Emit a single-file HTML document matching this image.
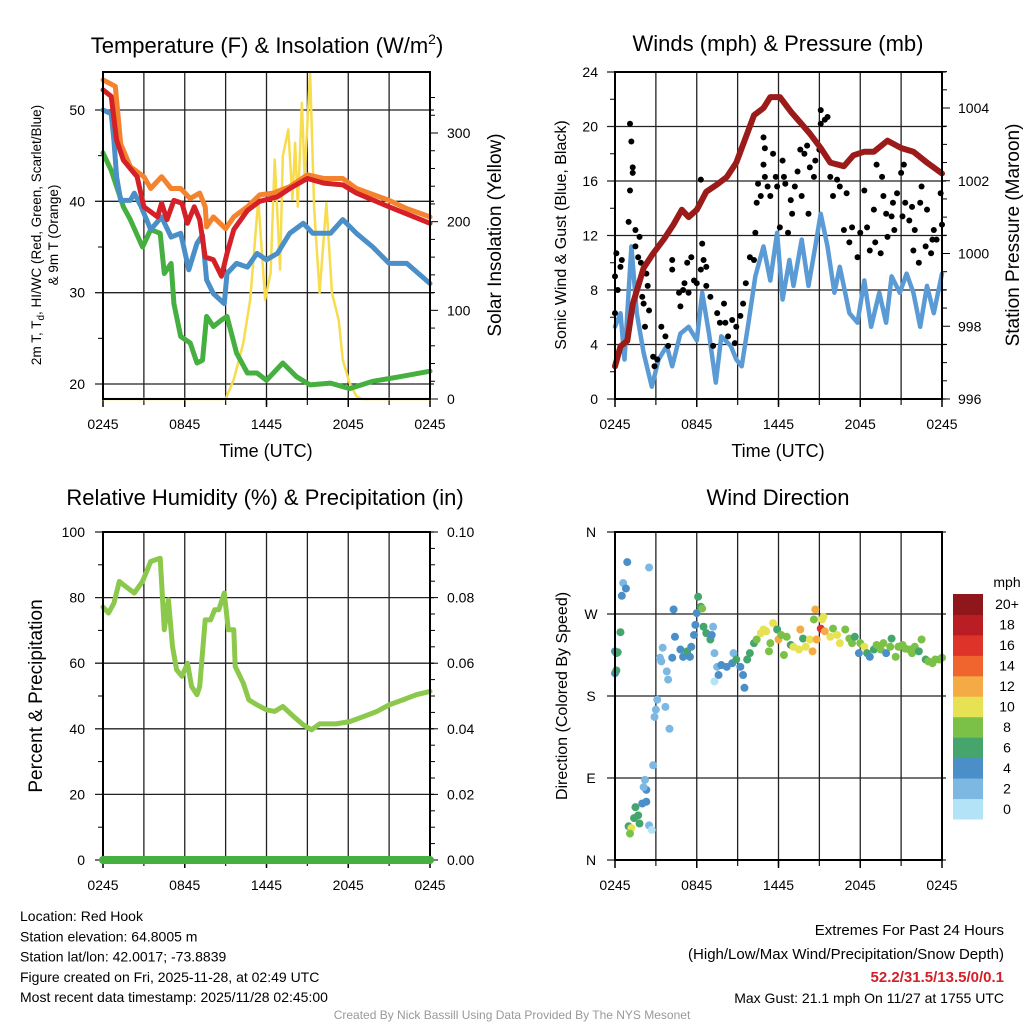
<!DOCTYPE html>
<html><head><meta charset="utf-8"><style>
body{margin:0;background:#fff;}
svg{display:block;font-family:"Liberation Sans",Arial,sans-serif;}
</style></head><body>
<svg id="c" width="1024" height="1024" viewBox="0 0 1024 1024">
</svg>
<script>
// ---------- data ----------
const orangeH=[0,0.9,1.3,2,3,3.5,4.3,5,5.7,6.4,7.1,7.5,7.6,8.1,9,9.6,10.6,11.5,12.5,13.7,15,16.2,17.6,18.6,21,22.3,24];
const orangeV=[53.3,52.6,46.3,43.8,42.7,41.4,42.7,41.4,41.4,40.3,40.9,39.4,37.2,38.3,37,38.3,39.4,40.7,40.9,41.6,42.9,42.5,42.5,41.4,40.1,39.2,38.3];
const redH=[0,0.6,1,1.5,2.5,3,4,4.3,4.7,5.2,5.8,6.2,6.7,7.1,7.5,8.1,8.7,9.1,9.6,10.6,11.5,12.8,13.7,15,16.2,17.6,18.6,21,24];
const redV=[52.2,51.5,46.7,44.5,42.7,39.4,38.3,39.8,38,40.1,39.8,37.6,39.4,38,33.9,33.6,31.8,34.3,36.9,39,40,40.5,41.4,42.5,42,41.8,40.9,39.4,37.6];
const blueH=[0,0.6,0.8,1,1.3,2,2.3,2.8,3.5,4.3,5,5.7,6.3,6.9,7.3,7.6,8.1,8.9,9.1,9.8,10.6,11.3,12,12.8,13.7,14.7,15.4,16.7,17.6,18.6,19.8,21,22.3,24];
const blueV=[50,49.6,46.7,42.7,40.1,40.1,40.9,39.4,36.9,38.3,36.1,36.5,32.5,35.4,36.3,31.4,29.9,28.8,32.1,33.2,32.8,34.3,33.6,34.3,36.5,37.6,36.5,36.5,38,36.5,35,33.2,33.2,31];
const greenH=[0,0.6,1.5,2,2.9,3.5,4.2,4.5,5,5.2,5.7,6.4,6.9,7.3,7.6,8.1,8.7,9.1,9.8,10.6,11.3,12,13.2,14.2,15.2,16.7,18.1,19.8,21.8,24];
const greenV=[45.3,43.4,39.4,38,35,36.9,36.5,32.1,33.2,28.8,25.2,24.5,22.3,22.6,27.4,26.3,27,27.4,23.4,21.2,21.2,20.4,22.3,20.8,19.9,20.1,19.5,20.3,20.8,21.4];
const solarH=[0,9,9.6,10.3,10.8,11.4,11.9,12.3,12.6,13,13.2,13.6,13.9,14.1,14.3,14.6,14.8,15.2,15.5,15.9,16.4,16.8,17.3,17.6,18.1,18.6,19,24];
const solarV=[0,0,22,63,112,225,112,142,270,146,274,304,225,289,217,334,251,368,214,120,221,120,89,44,18,3,0,0];

const presH=[0,0.4,0.9,1.3,2.1,2.8,3.6,4.3,4.9,5.4,6,6.7,7.5,8.2,8.9,9.7,10.2,10.9,11.4,12.1,12.9,13.6,14.3,15.1,15.8,16.8,17.5,18.3,19,20,21,21.9,22.9,24];
const presV=[996.9,997.45,997.6,998.6,999.6,1000,1000.4,1000.8,1001.2,1001,1001.2,1001.7,1001.9,1002.1,1002.5,1003.3,1003.8,1004,1004.3,1004.3,1003.9,1003.6,1003.3,1002.9,1002.5,1002.4,1002.7,1002.8,1002.8,1003.1,1002.9,1002.8,1002.5,1002.2];
const windH=[0,0.4,0.7,1.2,1.6,2.1,2.7,3.2,3.8,4.2,4.8,5.4,6,6.4,6.9,7.4,7.8,8.5,8.9,9.3,9.8,10.3,10.9,11.4,11.9,12.3,12.8,13.1,13.7,14.2,14.7,15.1,15.6,16.1,16.5,17.2,17.8,18.3,18.8,19.4,19.9,20.3,20.9,21.4,21.9,22.4,22.9,23.4,24];
const windV=[5.3,6.3,2.9,11.2,6.3,3.4,0.9,2.9,3.9,2.4,4.8,5.3,4.3,7.8,4.8,1.2,4.6,3.9,2.9,2.4,5.6,9,11.2,8.7,12.2,7.3,10.2,8.3,11.7,8.3,11.2,13.6,11.2,7.8,9.7,6.3,5.6,8.7,5.3,7.8,5.6,9,7.8,9.2,7.8,5.3,8.3,6.3,9.2];
const gustH=[0,0.1,0.4,0.5,0.2,0,1,1.1,1.2,1.3,1.3,1.1,1.5,1.8,1.5,1.7,1.9,2.3,2.4,2,2.1,2.5,2.2,2.8,2.9,3.1,3.4,3.7,3.9,4.2,4.2,4.7,4.8,5,5.1,5.3,5.4,5.6,5.8,6,6.3,6.4,6.5,6.7,6.3,6.7,7,7.2,7.5,7.7,8,8.1,8.3,8.6,8.8,8.9,9.2,9.4,9.6,9.9,10.2,10.3,10.4,10.5,10.7,10.9,11,11,10.9,11.2,11.4,11.6,11.8,11.9,12.1,12.3,12.4,12.5,12.7,12.9,13,13.2,13.4,13.6,13.7,13.9,14.1,14.2,14.3,14.6,14.7,15,15.1,15.1,15.4,15.6,15.8,16,16.3,16.5,16.8,17,17.2,17.4,17.8,18,18.3,18.5,18.7,19,19.1,19.2,19.5,19.6,19.7,19.9,20,20.3,20.4,20.5,20.7,21,21.1,21.2,21.3,21.6,21.8,21.9,22,22.3,22.4,22.5,22.8,22.9,23.2,23.3,23.4,23.6,23.9,24];
const gustV=[9,10.7,9.7,10.2,8,6.3,13,20.2,18.9,17,16.6,15.3,12.4,11.9,11.2,10.4,10,9.2,8.3,7.5,7,6.5,5.3,3.1,2.4,2.9,5.3,4.6,3.9,10.2,9.5,7.8,6.8,8,8.5,10,7.8,10.4,8.7,8.5,9.5,11.4,10.2,9.7,16.1,8.3,7.5,3.9,6.3,5.6,7,5.6,4.6,5.8,4.1,5.3,6.1,7,8.5,10.4,10.2,12.2,14.4,15.8,14.9,19.2,18.4,16.3,17.2,15.6,14.9,18,16.3,15.6,12.6,17.5,16.3,15.8,12.2,14.6,13.6,15.6,16.7,18.3,14.9,18,18.6,13.6,17,16.3,17.5,18.3,20.2,21.2,20.5,20.7,16.3,14.9,16.1,15.6,12.4,15.1,11.5,12.6,10.4,12.2,15.3,12.6,10.9,13.9,11.5,17.2,10.7,16.3,14.9,13.6,11.9,13.4,14.4,12.4,15.1,16.6,13.4,17.2,14.4,13.1,14.1,10.9,12.4,10,14.4,15.6,11.2,13.9,10.7,11.7,12.4,11.7,15.1,12.8];

const rhH=[0,0.4,0.8,1.2,1.5,2.3,2.9,3.5,4.2,4.5,4.8,5.1,5.4,5.8,6.2,6.5,6.9,7.1,7.5,7.9,8.2,8.5,8.9,9.2,9.6,9.7,10.3,10.7,11.3,12,12.6,13.2,14,14.7,15.3,15.9,17.1,18.1,19.1,20.1,21,22,23,24];
const rhV=[77.1,75.3,78.3,84.9,83.9,81.4,84.9,91,92,70.2,79.3,65.1,58,56,60,52.9,50.4,52.9,73.2,73.2,76.3,76.3,81.4,70.2,70.2,59,53.9,48.8,47.3,45.8,45.3,46.8,43.7,41.2,39.7,41.5,41.5,42.2,43.7,45.3,47.3,48.8,50.4,51.4];
const precipH=[0,24];
const precipV=[0,0];

const dirH=[0,0.1,0.2,0,0.1,0.4,0.5,0.6,0.8,0.9,2.5,4.3,3.5,3.3,3.4,3.8,3.9,4.2,4.4,4.8,5,5.3,5.5,5.6,5.8,5.9,6,6.1,6.3,6.4,6.5,6.7,7,7.1,7.2,7.3,7.5,7.6,7.3,7.8,8.2,8.6,8.7,8.9,9.2,9.4,9.5,9.7,9.9,10.2,10.4,10.7,10.9,11.1,11.3,11.4,11.6,11.9,12,12.2,12.4,12.6,12.9,13.1,13.5,13.8,13.6,14,14.3,14.5,14.6,14.7,14.8,15.1,15.2,15.3,15.4,15.8,16,16.3,16.5,16.9,17.2,17.4,17.6,17.9,18,18.3,18.5,18.7,19,19.2,19.5,19.7,19.9,20.2,20.3,20.6,20.8,21.1,21.3,21.6,21.8,22,22.3,22.5,22.8,23,23.3,23.5,23.8,24,2.8,2.9,3,3.1,3.7,4,2.2,2.3,2.1,2.3,2,1.5,1.7,1.4,1.8,1,1.2,1.1,2.5,2.7];
const dirV=[229,227,228,205,208,250,290,304,298,327,321,275,233,222,218,207,198,222,245,231,223,229,223,234,247,258,271,289,278,276,256,249,242,247,256,227,212,203,196,214,212,216,227,220,212,203,189,220,227,238,242,249,253,251,229,238,260,253,242,247,225,245,236,234,231,243,253,234,242,229,264,275,242,254,264,267,251,245,254,247,238,253,243,238,245,227,238,234,227,223,231,236,231,238,227,234,243,223,234,236,232,231,227,234,229,242,220,218,216,220,220,222,104,157,165,176,168,144,88,77,80,64,62,58,49,46,40,37,35,29,38,33];
const dirS=[4,6,6,4,6,6,4,2,4,4,2,4,2,2,2,2,2,4,4,4,4,6,4,4,4,4,4,6,6,8,6,6,6,4,2,2,2,4,0,4,4,4,2,6,4,4,4,6,6,6,8,10,10,10,8,8,10,6,12,8,8,8,6,10,10,6,12,10,10,12,8,12,12,16,10,10,12,10,8,10,10,8,8,8,6,4,8,10,6,4,6,8,8,8,4,8,6,8,8,8,8,8,8,8,6,8,6,8,8,8,8,8,2,2,2,2,2,2,2,4,2,4,4,6,6,6,6,6,10,8,2,0];
const speedColors=['#b3e3f7','#7db8e3','#4a8fc8','#45a56d','#7bc148','#e6e254','#f5ab45','#ef652d','#dd3329','#bb1d24','#8f161a'];
const speedLabels=['0','2','4','6','8','10','12','14','16','18','20+'];
const timeTicks=['0245','0845','1445','2045','0245'];

// ---------- helpers ----------
const NS='http://www.w3.org/2000/svg';
const svg=document.getElementById('c');
function mk(tag,attrs,parent){const e=document.createElementNS(NS,tag);for(const k in attrs)e.setAttribute(k,attrs[k]);(parent||svg).appendChild(e);return e;}
function txt(x,y,s,size,anchor,extra,parent){const e=mk('text',Object.assign({x:x,y:y,'font-size':size,'text-anchor':anchor||'middle',fill:'#000'},extra||{}),parent);e.textContent=s;return e;}
function linear(d0,d1,r0,r1){return v=>r0+(v-d0)/(d1-d0)*(r1-r0);}

function frame(L,R,T,B,g,hgrid){
  const xs=linear(0,24,L,R);
  for(let h=3;h<24;h+=3){mk('line',{x1:xs(h),x2:xs(h),y1:T,y2:B+6,stroke:'#222','stroke-width':1.3},g);}
  hgrid.forEach(y=>mk('line',{x1:L-8,x2:R+4,y1:y,y2:y,stroke:'#222','stroke-width':1.3},g));
  for(let h=0;h<=24;h+=6){mk('line',{x1:xs(h),x2:xs(h),y1:B,y2:B+8,stroke:'#000','stroke-width':1.5},g);}
}
function border(L,R,T,B,g){mk('rect',{x:L,y:T,width:R-L,height:B-T,fill:'none',stroke:'#000','stroke-width':2},g);}
function timeLabels(L,R,y,g){const xs=linear(0,24,L,R);timeTicks.forEach((t,i)=>txt(xs(i*6),y,t,14,'middle',{},g));}
function poly(H,V,xs,ys,attrs,g,name){const p=mk('polyline',Object.assign({points:H.map((h,i)=>xs(h).toFixed(1)+','+ys(V[i]).toFixed(1)).join(' '),fill:'none','stroke-linejoin':'round','stroke-linecap':'round'},attrs),g);

return p;}

// ---------- Panel 1 ----------
{
const g=mk('g',{});
const L=103,R=430,T=72,B=399;
const xs=linear(0,24,L,R), ys=linear(20,50,384,110), ysr=linear(0,300,399,133);
frame(L,R,T,B,g,[20,30,40,50].map(ys));
for(let v=25;v<=50;v+=10)mk('line',{x1:L-5,x2:L,y1:ys(v),y2:ys(v),stroke:'#000'},g);
for(let s=0;s<=350;s+=20)mk('line',{x1:R,x2:R+(s%100==0?8:5),y1:ysr(s),y2:ysr(s),stroke:'#000'},g);
poly(solarH,solarV,xs,ysr,{stroke:'#f7dc4e','stroke-width':2.5},g,'solar-insolation-line');
poly(greenH,greenV,xs,ys,{stroke:'#45b040','stroke-width':5},g,'dewpoint-line');
poly(blueH,blueV,xs,ys,{stroke:'#4a8fc8','stroke-width':5},g,'windchill-line');
poly(orangeH,orangeV,xs,ys,{stroke:'#f5822d','stroke-width':5},g,'temp-9m-line');
poly(redH,redV,xs,ys,{stroke:'#d42026','stroke-width':5},g,'temp-2m-line');
border(L,R,T,B,g);
[20,30,40,50].forEach(v=>txt(85,ys(v)+5,String(v),14,'end',{},g));
[0,100,200,300].forEach(v=>txt(447,ysr(v)+5,String(v),14,'start',{},g));
timeLabels(L,R,429,g);
const t=txt(267,53,'Temperature (F) & Insolation (W/m',22,'middle',{},g);
const sup=mk('tspan',{dy:-9,'font-size':14},t);sup.textContent='2';
const cl=mk('tspan',{dy:9},t);cl.textContent=')';

txt(266,457,'Time (UTC)',18,'middle',{},g);
const yl=txt(0,0,'',13.5,'middle',{transform:'translate(41,235) rotate(-90)'},g);
yl.innerHTML='2m T, T<tspan dy="3" font-size="10">d</tspan><tspan dy="-3">, HI/WC (Red, Green, Scarlet/Blue)</tspan>';
txt(0,0,'& 9m T (Orange)',13.5,'middle',{transform:'translate(58,235) rotate(-90)'},g);
txt(0,0,'Solar Insolation (Yellow)',19,'middle',{transform:'translate(501,235) rotate(-90)'},g);
}

// ---------- Panel 2 ----------
{
const g=mk('g',{});
const L=615,R=942,T=72,B=399;
const xs=linear(0,24,L,R), ys=linear(0,24,399,72), ysp=linear(996,1004,399,108);
frame(L,R,T,B,g,[0,4,8,12,16,20,24].map(ys));
for(let v=2;v<24;v+=4)mk('line',{x1:L-5,x2:L,y1:ys(v),y2:ys(v),stroke:'#000'},g);
for(let p=996;p<=1005;p+=0.5)mk('line',{x1:R,x2:R+(p%2==0?8:5),y1:ysp(p),y2:ysp(p),stroke:'#000'},g);
poly(windH,windV,xs,ys,{stroke:'#5b9bd5','stroke-width':4.5},g,'sonic-wind-line');
gustH.forEach((h,i)=>{const c=mk('circle',{cx:xs(h),cy:ys(gustV[i]),r:3,fill:'#000'},g);

});
poly(presH,presV,xs,ysp,{stroke:'#9b1a1a','stroke-width':6},g,'pressure-line');
border(L,R,T,B,g);
[0,4,8,12,16,20,24].forEach(v=>txt(598,ys(v)+5,String(v),14,'end',{},g));
[996,998,1000,1002,1004].forEach(v=>txt(958,ysp(v)+5,String(v),14,'start',{},g));
timeLabels(L,R,429,g);
txt(778,51,'Winds (mph) & Pressure (mb)',22,'middle',{},g);
txt(778,457,'Time (UTC)',18,'middle',{},g);
txt(0,0,'Sonic Wind & Gust (Blue, Black)',16,'middle',{transform:'translate(566,235) rotate(-90)'},g);
txt(0,0,'Station Pressure (Maroon)',19,'middle',{transform:'translate(1019,235) rotate(-90)'},g);
}

// ---------- Panel 3 ----------
{
const g=mk('g',{});
const L=103,R=430,T=532,B=860;
const xs=linear(0,24,L,R), ys=linear(0,100,860,532), ysr=linear(0,0.1,860,532);
frame(L,R,T,B,g,[0,20,40,60,80,100].map(ys));
for(let v=10;v<100;v+=20)mk('line',{x1:L-5,x2:L,y1:ys(v),y2:ys(v),stroke:'#000'},g);
for(let v=0;v<=100;v+=5)mk('line',{x1:R,x2:R+(v%20==0?8:5),y1:ys(v),y2:ys(v),stroke:'#000'},g);
poly(rhH,rhV,xs,ys,{stroke:'#8cc84b','stroke-width':5},g,'humidity-line');
border(L,R,T,B,g);
poly(precipH,precipV,xs,ysr,{stroke:'#45b040','stroke-width':8},g,'precip-line');
[0,20,40,60,80,100].forEach(v=>txt(85,ys(v)+5,String(v),14,'end',{},g));
['0.00','0.02','0.04','0.06','0.08','0.10'].forEach((s,i)=>txt(447,ys(i*20)+5,s,14,'start',{},g));
timeLabels(L,R,890,g);
txt(265,505,'Relative Humidity (%) & Precipitation (in)',22,'middle',{},g);
txt(0,0,'Percent & Precipitation',19,'middle',{transform:'translate(42,696) rotate(-90)'},g);
}

// ---------- Panel 4 ----------
{
const g=mk('g',{});
const L=615,R=942,T=532,B=860;
const xs=linear(0,24,L,R), ys=linear(0,360,860,532);
frame(L,R,T,B,g,[0,90,180,270,360].map(ys));
dirH.forEach((h,i)=>{const ci=Math.min(10,Math.floor(dirS[i]/2));const c=mk('circle',{cx:xs(h),cy:ys(dirV[i]),r:4,fill:speedColors[ci]},g);

});
border(L,R,T,B,g);
[['N',0],['E',90],['S',180],['W',270],['N',360]].forEach(a=>txt(591,ys(a[1])+5,a[0],14,'middle',{},g));
timeLabels(L,R,890,g);
txt(778,505,'Wind Direction',22,'middle',{},g);
txt(0,0,'Direction (Colored By Speed)',16,'middle',{transform:'translate(567,696) rotate(-90)'},g);
const cb=mk('g',{},g);
const cellH=(819-594)/11;
for(let i=0;i<11;i++){const y=819-(i+1)*cellH;mk('rect',{x:953,y:y,width:30,height:cellH+0.5,fill:speedColors[i]},cb);txt(1007,y+cellH/2+5,speedLabels[i],14,'middle',{},cb);}
txt(1007,587,'mph',14,'middle',{},cb);
}

// ---------- footer ----------
{
const g=mk('g',{});
['Location: Red Hook','Station elevation: 64.8005 m','Station lat/lon: 42.0017; -73.8839','Figure created on Fri, 2025-11-28, at 02:49 UTC','Most recent data timestamp: 2025/11/28 02:45:00'].forEach((s,i)=>txt(20,921+i*20.3,s,14,'start',{},g));
const r=mk('g',{});
txt(1004,935,'Extremes For Past 24 Hours',15,'end',{},r);
txt(1004,959,'(High/Low/Max Wind/Precipitation/Snow Depth)',15,'end',{},r);
txt(1004,982,'52.2/31.5/13.5/0/0.1',15,'end',{fill:'#d42026','font-weight':'bold'},r);
txt(1004,1003,'Max Gust: 21.1 mph On 11/27 at 1755 UTC',14,'end',{},r);
const cr=txt(512,1019,'Created By Nick Bassill Using Data Provided By The NYS Mesonet',12,'middle',{fill:'#999'});


}
</script>
</body></html>
